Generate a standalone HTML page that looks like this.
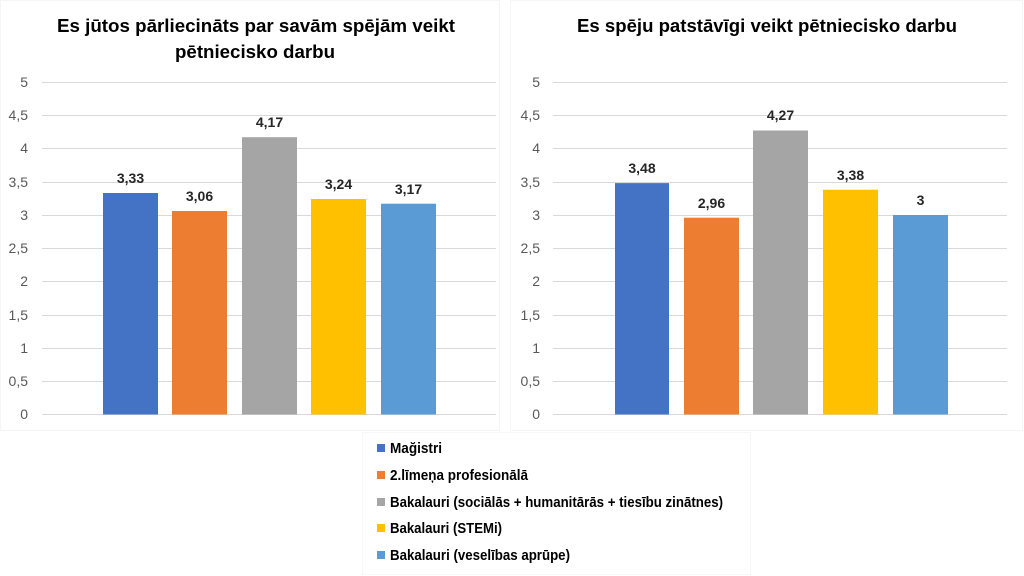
<!DOCTYPE html>
<html><head><meta charset="utf-8"><style>
html,body{margin:0;padding:0;background:#fff;}
svg{display:block;}
text{font-family:"Liberation Sans",sans-serif;}
</style></head><body>
<svg width="1024" height="576" viewBox="0 0 1024 576" xmlns="http://www.w3.org/2000/svg">
<rect width="1024" height="576" fill="#fff"/>
<!-- faint chart borders -->
<rect x="0.5" y="0.5" width="499" height="430" fill="none" stroke="#f5f5f5"/>
<rect x="510.5" y="0.5" width="512" height="430" fill="none" stroke="#f5f5f5"/>
<rect x="362.5" y="432.5" width="388" height="142" fill="none" stroke="#f7f7f7"/>

<g font-weight="bold" fill="#000" font-size="18">
<text x="256" y="32" text-anchor="middle" textLength="398" lengthAdjust="spacingAndGlyphs">Es jūtos pārliecināts par savām spējām veikt</text>
<text x="255" y="58" text-anchor="middle" textLength="160" lengthAdjust="spacingAndGlyphs">pētniecisko darbu</text>
<text x="767" y="32" text-anchor="middle" textLength="380" lengthAdjust="spacingAndGlyphs">Es spēju patstāvīgi veikt pētniecisko darbu</text>
</g>

<g stroke="#d9d9d9" stroke-width="1">
<line x1="42" x2="496" y1="82.5" y2="82.5"/>
<line x1="42" x2="496" y1="115.5" y2="115.5"/>
<line x1="42" x2="496" y1="148.5" y2="148.5"/>
<line x1="42" x2="496" y1="182.5" y2="182.5"/>
<line x1="42" x2="496" y1="215.5" y2="215.5"/>
<line x1="42" x2="496" y1="248.5" y2="248.5"/>
<line x1="42" x2="496" y1="281.5" y2="281.5"/>
<line x1="42" x2="496" y1="315.5" y2="315.5"/>
<line x1="42" x2="496" y1="348.5" y2="348.5"/>
<line x1="42" x2="496" y1="381.5" y2="381.5"/>
<line x1="42" x2="496" y1="414.5" y2="414.5"/>

<line x1="553" x2="1007" y1="82.5" y2="82.5"/>
<line x1="553" x2="1007" y1="115.5" y2="115.5"/>
<line x1="553" x2="1007" y1="148.5" y2="148.5"/>
<line x1="553" x2="1007" y1="182.5" y2="182.5"/>
<line x1="553" x2="1007" y1="215.5" y2="215.5"/>
<line x1="553" x2="1007" y1="248.5" y2="248.5"/>
<line x1="553" x2="1007" y1="281.5" y2="281.5"/>
<line x1="553" x2="1007" y1="315.5" y2="315.5"/>
<line x1="553" x2="1007" y1="348.5" y2="348.5"/>
<line x1="553" x2="1007" y1="381.5" y2="381.5"/>
<line x1="553" x2="1007" y1="414.5" y2="414.5"/>
</g>

<g font-size="14" fill="#595959" text-anchor="end">
<text x="28" y="87">5</text>
<text x="28" y="120">4,5</text>
<text x="28" y="153">4</text>
<text x="28" y="187">3,5</text>
<text x="28" y="220">3</text>
<text x="28" y="253">2,5</text>
<text x="28" y="286">2</text>
<text x="28" y="320">1,5</text>
<text x="28" y="353">1</text>
<text x="28" y="386">0,5</text>
<text x="28" y="419">0</text>

<text x="540" y="87">5</text>
<text x="540" y="120">4,5</text>
<text x="540" y="153">4</text>
<text x="540" y="187">3,5</text>
<text x="540" y="220">3</text>
<text x="540" y="253">2,5</text>
<text x="540" y="286">2</text>
<text x="540" y="320">1,5</text>
<text x="540" y="353">1</text>
<text x="540" y="386">0,5</text>
<text x="540" y="419">0</text>
</g>

<!-- left bars -->
<rect x="103" y="193" width="55" height="221.5" fill="#4472c4"/>
<rect x="172" y="211" width="55" height="203.5" fill="#ed7d31"/>
<rect x="242" y="137.2" width="55" height="277.3" fill="#a5a5a5"/>
<rect x="311" y="199" width="55" height="215.5" fill="#ffc000"/>
<rect x="381" y="203.7" width="55" height="210.8" fill="#5b9bd5"/>

<!-- right bars -->
<rect x="615" y="183.1" width="54" height="231.4" fill="#4472c4"/>
<rect x="684" y="217.7" width="55" height="196.8" fill="#ed7d31"/>
<rect x="753" y="130.5" width="55" height="284" fill="#a5a5a5"/>
<rect x="823" y="189.7" width="55" height="224.8" fill="#ffc000"/>
<rect x="893" y="215" width="55" height="199.5" fill="#5b9bd5"/>

<g font-size="14" font-weight="bold" fill="#262626" text-anchor="middle">
<text x="130.5" y="183">3,33</text>
<text x="199.5" y="201">3,06</text>
<text x="269.5" y="127">4,17</text>
<text x="338.5" y="189">3,24</text>
<text x="408.5" y="194">3,17</text>

<text x="642" y="173">3,48</text>
<text x="711.5" y="208">2,96</text>
<text x="780.5" y="120">4,27</text>
<text x="850.5" y="180">3,38</text>
<text x="920.5" y="205">3</text>
</g>

<!-- legend -->
<rect x="377" y="444" width="8" height="8" fill="#4472c4"/>
<rect x="377" y="471" width="8" height="8" fill="#ed7d31"/>
<rect x="377" y="498" width="8" height="8" fill="#a5a5a5"/>
<rect x="377" y="524" width="8" height="8" fill="#ffc000"/>
<rect x="377" y="551" width="8" height="8" fill="#5b9bd5"/>
<g font-size="15" font-weight="bold" fill="#000">
<text x="390" y="453" textLength="52" lengthAdjust="spacingAndGlyphs">Mağistri</text>
<text x="390" y="480" textLength="138" lengthAdjust="spacingAndGlyphs">2.līmeņa profesionālā</text>
<text x="390" y="507" textLength="333" lengthAdjust="spacingAndGlyphs">Bakalauri (sociālās + humanitārās + tiesību zinātnes)</text>
<text x="390" y="533" textLength="112" lengthAdjust="spacingAndGlyphs">Bakalauri (STEMi)</text>
<text x="390" y="560" textLength="180" lengthAdjust="spacingAndGlyphs">Bakalauri (veselības aprūpe)</text>
</g>
</svg>
</body></html>
